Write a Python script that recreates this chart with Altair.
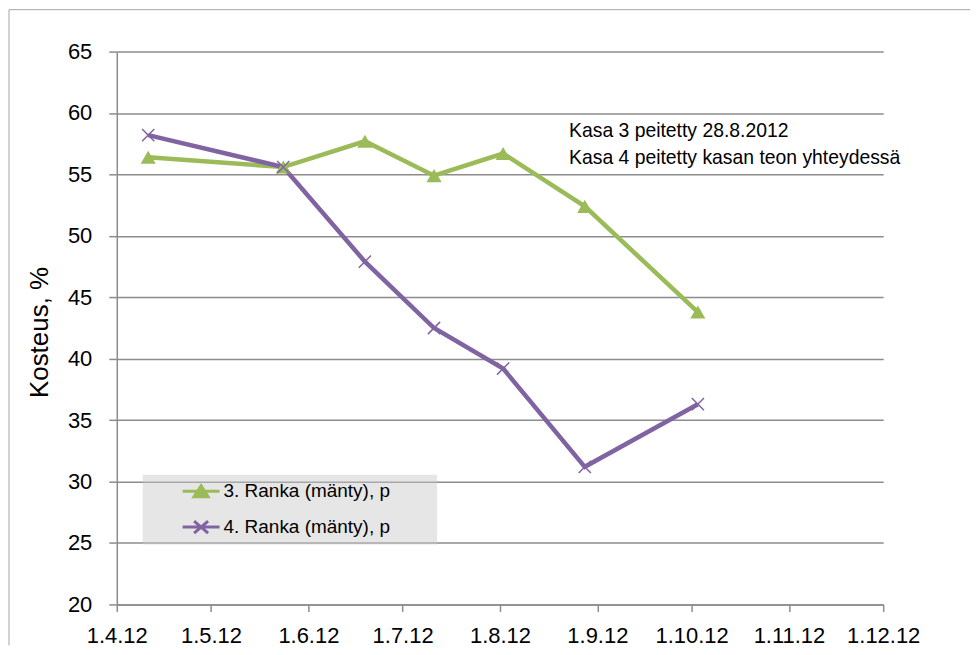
import altair as alt
import pandas as pd

# ---- data ----
dates = ["2012-04-11", "2012-05-24", "2012-06-19", "2012-07-11",
         "2012-08-02", "2012-08-28", "2012-10-03"]
ranka3 = [56.4, 55.6, 57.7, 54.9, 56.7, 52.4, 43.8]
ranka4 = [58.2, 55.6, 47.9, 42.5, 39.2, 31.2, 36.3]
series_names = ["3. Ranka (mänty), p", "4. Ranka (mänty), p"]
x_tick_months = [4, 5, 6, 7, 8, 9, 10, 11, 12]
y_ticks = [20, 25, 30, 35, 40, 45, 50, 55, 60, 65]
note_lines = ["Kasa 3 peitetty 28.8.2012", "Kasa 4 peitetty kasan teon yhteydessä"]
note_dates = ["2012-08-23", "2012-08-23"]
note_values = [58.5, 56.3]

GREEN = "#9BBB59"
PURPLE = "#8064A2"
GRID = "#8c8c8c"
FONT = "Liberation Sans"

rows = []
for name, vals in zip(series_names, [ranka3, ranka4]):
    for d, v in zip(dates, vals):
        rows.append({"date": d, "value": v, "series": name})
df = pd.DataFrame(rows)
notes = pd.DataFrame({"date": note_dates, "value": note_values, "line": note_lines})

x_enc = alt.X(
    "date:T",
    scale=alt.Scale(
        type="utc",
        domain=[alt.DateTime(year=2012, month=4, date=1, utc=True),
                alt.DateTime(year=2012, month=12, date=1, utc=True)],
    ),
    axis=alt.Axis(
        values=[alt.DateTime(year=2012, month=m, date=1, utc=True) for m in x_tick_months],
        labelExpr="utcFormat(datum.value, '%-d.%-m.%y')",
        labelOverlap=False, labelFlush=False,
        grid=False, tickSize=7, tickWidth=1.5, tickColor=GRID,
        domainColor=GRID, domainWidth=1.5,
        labelFontSize=22, labelPadding=14, labelColor="black", labelFont=FONT,
        title=None,
    ),
)
y_enc = alt.Y(
    "value:Q",
    scale=alt.Scale(domain=[20, 65], nice=False, zero=False),
    axis=alt.Axis(
        values=y_ticks, grid=True, gridColor=GRID, gridWidth=1.5,
        domainColor=GRID, domainWidth=1.5, tickColor=GRID, tickWidth=1.5, tickSize=8,
        labelFontSize=22, labelPadding=17, labelColor="black", labelFont=FONT,
        labelOverlap=False, labelFlush=False,
        title="Kosteus, %", titleFontSize=26, titleFontWeight="normal", titleFont=FONT,
        titleColor="black", titleX=-69, titleY=281, titleBaseline="alphabetic",
    ),
)

base = alt.Chart(df)

pad_chars = "\u2800" * 3
legend = alt.Legend(
    title=None, orient="none", legendX=26, legendY=424,
    fillColor="rgba(200,200,200,0.45)", padding=5, rowPadding=12,
    symbolSize=400, symbolStrokeWidth=3,
    symbolOffset=42, labelOffset=11,
    labelFont=FONT, labelFontSize=19, labelColor="black", labelLimit=400,
    labelExpr="datum.label + '" + pad_chars + "'",
)

lines = base.mark_line(strokeWidth=4.5).encode(
    x=x_enc, y=y_enc,
    color=alt.Color("series:N", scale=alt.Scale(domain=series_names, range=[GREEN, PURPLE]), legend=legend),
)

tri = base.transform_filter(alt.datum.series == series_names[0]).mark_point(
    shape="triangle-up", filled=True, size=230, color=GREEN, opacity=1
).encode(x=x_enc, y=y_enc)

x_path = "M-1,-1L1,1M-1,1L1,-1"
xs = base.transform_filter(alt.datum.series == series_names[1]).mark_point(
    shape=x_path, size=150, color=PURPLE, strokeWidth=1.5, opacity=1, filled=False
).encode(x=x_enc, y=y_enc)

# legend symbols: line with marker; this layer's own points have zero size
leg_tri = "M-1.85,0H1.85M-0.7,0.55L0,-0.55L0.7,0.55Z"
leg_x = "M-1.85,0H1.85M-0.7,-0.6L0.7,0.6M-0.7,0.6L0.7,-0.6"
leg = base.mark_point(opacity=1, strokeWidth=3, size=0).encode(
    x=x_enc, y=y_enc,
    shape=alt.Shape("series:N", scale=alt.Scale(domain=series_names, range=[leg_tri, leg_x]), legend=legend),
    fill=alt.Fill("series:N", scale=alt.Scale(domain=series_names, range=[GREEN, PURPLE]), legend=legend),
    stroke=alt.Stroke("series:N", scale=alt.Scale(domain=series_names, range=[GREEN, PURPLE]), legend=legend),
)

text = alt.Chart(notes).mark_text(
    align="left", baseline="middle", fontSize=19.4, font=FONT, color="black"
).encode(x=x_enc, y=y_enc, text="line:N")

frame_df = pd.DataFrame({"k": [0]})
top_border = alt.Chart(frame_df).mark_rule(color="#a6a6a6", strokeWidth=1).encode(
    x=alt.value(-108), x2=alt.value(855), y=alt.value(-42)
)
left_border = alt.Chart(frame_df).mark_rule(color="#a6a6a6", strokeWidth=1).encode(
    x=alt.value(-108), y=alt.value(-42), y2=alt.value(595)
)

chart = alt.layer(top_border, left_border, lines, leg, tri, xs, text).properties(
    width=768, height=554, padding=0, background="white"
).configure_view(stroke=None)

chart.save("out.html", embed_options={"renderer": "svg", "actions": False})
